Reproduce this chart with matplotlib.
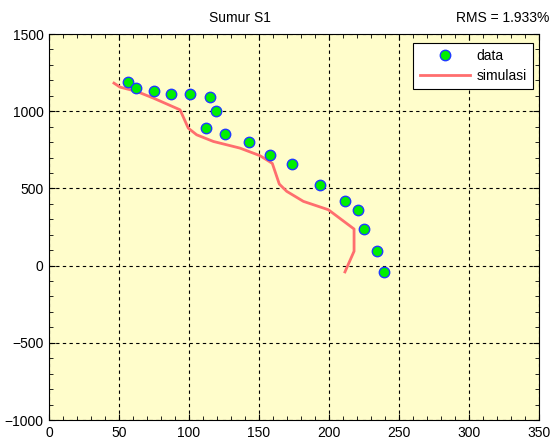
import matplotlib
matplotlib.use("Agg")
import matplotlib.pyplot as plt
from matplotlib.ticker import MultipleLocator

plt.rcParams['font.family'] = ['Liberation Sans', 'DejaVu Sans']

# measured data points
data_x = [56.2, 62.1, 75.0, 87.4, 100.9, 114.8, 119.5, 112.1, 126.0, 142.6,
          157.9, 173.3, 193.6, 211.4, 220.9, 225.0, 234.0, 239.3]
data_y = [1186, 1153, 1132, 1110, 1110, 1095, 1002, 891, 854, 802,
          714, 658, 524, 416, 362, 239, 97, -41]

# simulated curve
sim_x = [46.4, 50.7, 62.6, 74.5, 93.6, 99.5, 105.5, 117.4, 136.4, 150.7,
         159.5, 164.5, 169.8, 181.7, 199.5, 217.9, 217.9, 211.4]
sim_y = [1182, 1156, 1128, 1085, 1009, 890, 847, 804, 761, 712,
         662, 528, 481, 416, 362, 237, 93, -41]

title = "Sumur S1"
rms_text = "RMS = 1.933%"

fig = plt.figure(figsize=(5.56, 4.46), dpi=100)
ax = fig.add_axes([49/556, 26/446, 490/556, 386/446])
ax.set_facecolor('#FFFDCB')

ax.plot(data_x, data_y, linestyle='none', marker='o', markersize=7.5,
        markerfacecolor='#00F000', markeredgecolor='#1E3CFF', markeredgewidth=1.0,
        label='data', zorder=3)
ax.plot(sim_x, sim_y, color='#FF6E6E', linewidth=2.0, label='simulasi', zorder=2)

ax.set_xlim(0, 350)
ax.set_ylim(-1000, 1500)
ax.xaxis.set_major_locator(MultipleLocator(50))
ax.xaxis.set_minor_locator(MultipleLocator(10))
ax.yaxis.set_major_locator(MultipleLocator(500))
ax.yaxis.set_minor_locator(MultipleLocator(100))
ax.tick_params(which='both', direction='in', top=True, right=True,
               labelsize=10, colors='black')
ax.tick_params(which='major', length=4, pad=4)
ax.tick_params(which='minor', length=3)
ax.grid(True, which='major', color='black', linestyle=(0, (3, 3)), linewidth=0.8)
for s in ax.spines.values():
    s.set_linewidth(0.8)

fig.text(240/556, 1 - 17.5/446, title, ha='center', va='center', fontsize=10)
fig.text(549/556, 1 - 17.5/446, rms_text, ha='right', va='center', fontsize=10)

leg = ax.legend(loc='upper right', fancybox=False, edgecolor='black', framealpha=1,
                fontsize=10, borderpad=0.45, handlelength=3.6, handletextpad=0.5,
                labelspacing=0.4, borderaxespad=0,
                bbox_to_anchor=(533/556, 1 - 43/446), bbox_transform=fig.transFigure)
leg.get_frame().set_linewidth(0.8)

fig.savefig('out.png', dpi=100)
